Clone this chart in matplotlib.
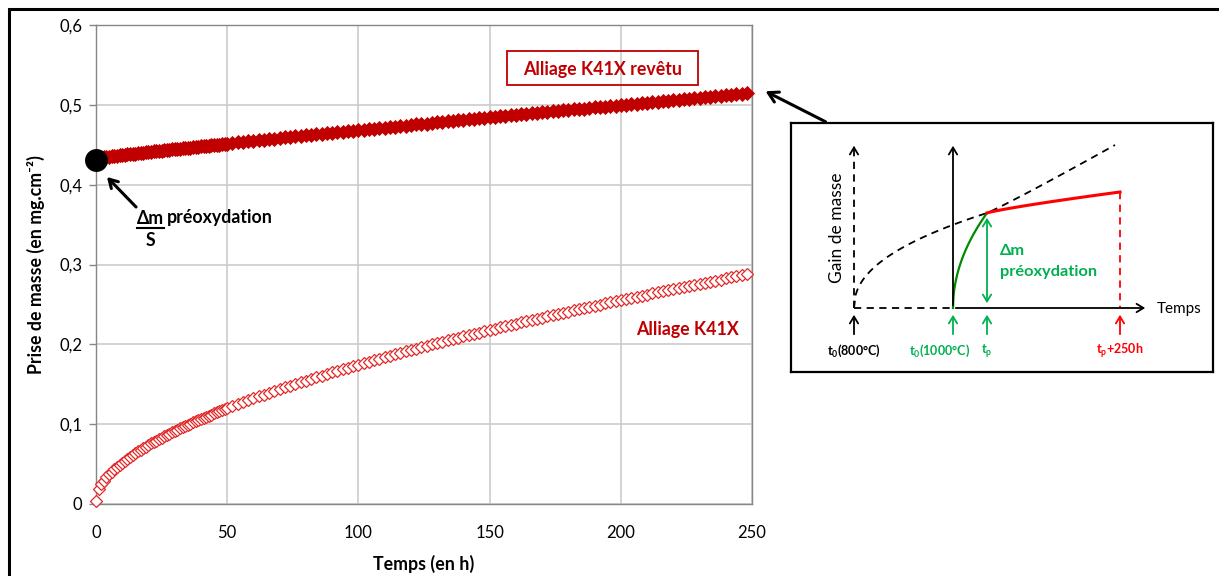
import matplotlib
matplotlib.use('Agg')
import matplotlib.pyplot as plt
from matplotlib.patches import Rectangle, FancyArrowPatch
from matplotlib.lines import Line2D
import numpy as np

plt.rcParams['font.family'] = ['Lato', 'DejaVu Sans']
plt.rcParams['mathtext.fontset'] = 'custom'
plt.rcParams['mathtext.rm'] = 'Lato'
plt.rcParams['mathtext.bf'] = 'Lato:bold'
plt.rcParams['mathtext.it'] = 'Lato:italic'

# ---------------- data ----------------
temps = [0, 1, 2, 3, 4, 5, 6, 7, 8, 9, 10, 11, 12, 13, 14, 15, 16, 17, 18, 19,
         20, 21, 22, 23, 24, 25, 26, 27, 28, 29, 30, 31, 32, 33, 34, 35, 36, 37, 38, 39,
         40, 41, 42, 43, 44, 45, 46, 47, 48, 49, 50,
         52, 54, 56, 58, 60, 62, 64, 66, 68, 70, 72, 74, 76, 78, 80, 82, 84, 86, 88, 90,
         92, 94, 96, 98, 100, 102, 104, 106, 108, 110, 112, 114, 116, 118, 120, 122, 124, 126, 128, 130,
         132, 134, 136, 138, 140, 142, 144, 146, 148, 150, 152, 154, 156, 158, 160, 162, 164, 166, 168, 170,
         172, 174, 176, 178, 180, 182, 184, 186, 188, 190, 192, 194, 196, 198, 200, 202, 204, 206, 208, 210,
         212, 214, 216, 218, 220, 222, 224, 226, 228, 230, 232, 234, 236, 238, 240, 242, 244, 246, 248]

k41x = [0.004, 0.019, 0.0245, 0.0293, 0.0334, 0.0370, 0.0404, 0.0435, 0.0465, 0.0493,
        0.0519, 0.0544, 0.0569, 0.0592, 0.0615, 0.0637, 0.0659, 0.0680, 0.0700, 0.0720,
        0.0739, 0.0758, 0.0777, 0.0795, 0.0813, 0.0830, 0.0848, 0.0865, 0.0881, 0.0898,
        0.0914, 0.0930, 0.0946, 0.0961, 0.0977, 0.0992, 0.1007, 0.1021, 0.1036, 0.1050,
        0.1065, 0.1079, 0.1093, 0.1107, 0.1120, 0.1134, 0.1147, 0.1161, 0.1174, 0.1187,
        0.1200,
        0.1225, 0.1251, 0.1275, 0.1300, 0.1323, 0.1347, 0.1370, 0.1394, 0.1416, 0.1439,
        0.1461, 0.1482, 0.1504, 0.1525, 0.1546, 0.1567, 0.1588, 0.1608, 0.1629, 0.1649,
        0.1669, 0.1688, 0.1708, 0.1727, 0.1746, 0.1765, 0.1784, 0.1803, 0.1821, 0.1840,
        0.1858, 0.1876, 0.1894, 0.1911, 0.1929, 0.1947, 0.1964, 0.1981, 0.1999, 0.2015,
        0.2033, 0.2049, 0.2066, 0.2083, 0.2099, 0.2116, 0.2132, 0.2148, 0.2164, 0.2180,
        0.2196, 0.2212, 0.2228, 0.2244, 0.2259, 0.2275, 0.2290, 0.2305, 0.2321, 0.2336,
        0.2351, 0.2366, 0.2381, 0.2396, 0.2410, 0.2425, 0.2440, 0.2454, 0.2469, 0.2483,
        0.2498, 0.2512, 0.2526, 0.2540, 0.2554, 0.2569, 0.2582, 0.2597, 0.2610, 0.2624,
        0.2638, 0.2652, 0.2665, 0.2679, 0.2692, 0.2706, 0.2719, 0.2733, 0.2746, 0.2759,
        0.2773, 0.2786, 0.2799, 0.2812, 0.2825, 0.2838, 0.2851, 0.2864, 0.2877]

k41x_revetu = [0.4330, 0.4335, 0.4339, 0.4344, 0.4348, 0.4352, 0.4356, 0.4360, 0.4364, 0.4368,
               0.4372, 0.4375, 0.4379, 0.4383, 0.4387, 0.4390, 0.4394, 0.4398, 0.4401, 0.4405,
               0.4409, 0.4412, 0.4416, 0.4419, 0.4423, 0.4427, 0.4430, 0.4434, 0.4437, 0.4441,
               0.4444, 0.4448, 0.4451, 0.4455, 0.4458, 0.4462, 0.4465, 0.4469, 0.4472, 0.4475,
               0.4479, 0.4482, 0.4486, 0.4489, 0.4493, 0.4496, 0.4499, 0.4503, 0.4506, 0.4509,
               0.4513,
               0.4523, 0.4530, 0.4537, 0.4544, 0.4551, 0.4557, 0.4564, 0.4571, 0.4577, 0.4584,
               0.4591, 0.4597, 0.4604, 0.4611, 0.4617, 0.4624, 0.4631, 0.4637, 0.4644, 0.4650,
               0.4657, 0.4663, 0.4670, 0.4676, 0.4683, 0.4689, 0.4696, 0.4702, 0.4709, 0.4715,
               0.4722, 0.4728, 0.4734, 0.4741, 0.4747, 0.4754, 0.4760, 0.4766, 0.4773, 0.4779,
               0.4786, 0.4792, 0.4798, 0.4804, 0.4811, 0.4817, 0.4824, 0.4830, 0.4836, 0.4842,
               0.4849, 0.4855, 0.4861, 0.4868, 0.4874, 0.4880, 0.4886, 0.4892, 0.4899, 0.4905,
               0.4911, 0.4917, 0.4924, 0.4930, 0.4936, 0.4942, 0.4948, 0.4954, 0.4961, 0.4967,
               0.4973, 0.4979, 0.4985, 0.4991, 0.4998, 0.5004, 0.5010, 0.5016, 0.5022, 0.5028,
               0.5034, 0.5041, 0.5047, 0.5053, 0.5059, 0.5065, 0.5071, 0.5077, 0.5083, 0.5089,
               0.5095, 0.5101, 0.5107, 0.5114, 0.5120, 0.5126, 0.5132, 0.5138, 0.5144]

preox_t = [0]
preox_m = [0.431]

x_ticks = [0, 50, 100, 150, 200, 250]
y_ticks = [0, 0.1, 0.2, 0.3, 0.4, 0.5, 0.6]
y_ticklabels = ['0', '0,1', '0,2', '0,3', '0,4', '0,5', '0,6']

# ---------------- figure ----------------
W, H = 1219, 576
fig = plt.figure(figsize=(W / 100, H / 100), dpi=100)
fig.patch.set_facecolor('white')


def fx(x):
    return x / W


def fy(y):
    return 1 - y / H


# outer frame
fig.add_artist(Rectangle((fx(9), -0.05), 1.2, fy(9) + 0.05, fill=False,
                         edgecolor='black', lw=2.2, transform=fig.transFigure))

ax = fig.add_axes([fx(96), fy(504), (752 - 96) / W, (504 - 25) / H])
ax.set_xlim(0, 250)
ax.set_ylim(0, 0.6)
ax.set_xticks(x_ticks)
ax.set_xticklabels([str(v) for v in x_ticks])
ax.set_yticks(y_ticks)
ax.set_yticklabels(y_ticklabels)
ax.grid(True, color='#c8c8c8', lw=1.1)
ax.set_axisbelow(True)
for s in ax.spines.values():
    s.set_color('#868686')
    s.set_linewidth(1.0)
ax.tick_params(axis='y', length=5, width=1, color='#868686', pad=5, labelsize=12)
ax.tick_params(axis='x', length=0, pad=15, labelsize=12)

ax.plot(temps, k41x, linestyle='none', marker='D', ms=6.4, mfc='white',
        mec='#e02a2a', mew=0.9, clip_on=False, zorder=3)
ax.plot(temps, k41x_revetu, linestyle='none', marker='D', ms=6.9, mfc='#c00000',
        mec='#c00000', mew=0.6, clip_on=False, zorder=4)
ax.plot(preox_t, preox_m, linestyle='none', marker='o', ms=15.5, color='black',
        clip_on=False, zorder=6)

ax.set_xlabel('Temps (en h)', fontsize=12.8, fontweight='bold', labelpad=10)
ax.set_ylabel('Prise de masse (en mg.cm⁻²)', fontsize=12.8, fontweight='bold', labelpad=10)

# series labels
fig.add_artist(Rectangle((fx(507), fy(85)), (698 - 507) / W, (85 - 51) / H, fill=False,
                         edgecolor='#c00000', lw=1.3, transform=fig.transFigure))
fig.text(fx(603), fy(69), 'Alliage K41X revêtu', color='#c00000', fontsize=12.8,
         fontweight='bold', ha='center', va='center')
fig.text(fx(687), fy(329), 'Alliage K41X', color='#c00000', fontsize=12.8,
         fontweight='bold', ha='center', va='center')

# annotation near the black dot
fig.add_artist(FancyArrowPatch(
    (fx(138), fy(209)), (fx(105), fy(175)), transform=fig.transFigure,
    arrowstyle='->,head_length=6,head_width=3.5', lw=2.2, color='black'))
fig.text(fx(150), fy(218), 'Δm', fontsize=12.8, fontweight='bold', ha='center', va='center')
fig.add_artist(Line2D([fx(137), fx(164)], [fy(228), fy(228)], color='black', lw=1.5,
                      transform=fig.transFigure))
fig.text(fx(150), fy(241), 'S', fontsize=12.8, fontweight='bold', ha='center', va='center')
fig.text(fx(167), fy(218), 'préoxydation', fontsize=12.8, fontweight='bold', ha='left', va='center')

# arrow from inset to the end of the coated series
fig.add_artist(FancyArrowPatch(
    (fx(828), fy(123)), (fx(763), fy(90)), transform=fig.transFigure,
    arrowstyle='->,head_length=7,head_width=4', lw=2.2, color='black'))

# ---------------- inset schematic ----------------
axi = fig.add_axes([fx(791), fy(372), (1213 - 791) / W, (372 - 123) / H])
axi.set_xlim(791, 1213)
axi.set_ylim(372, 123)
axi.set_xticks([])
axi.set_yticks([])
for s in axi.spines.values():
    s.set_color('black')
    s.set_linewidth(1.6)

green_d = '#008a00'
green = '#00b050'
red = '#ff0000'
x0, xs, xp, xe, ybase = 854, 953, 987, 1120, 308
ytp = 213
head = '->,head_length=0.5,head_width=0.3'

# dashed axes (800°C)
axi.plot([x0, x0], [ybase, 148], color='black', lw=1.3, ls=(0, (4, 3)))
axi.annotate('', xy=(x0, 143), xytext=(x0, 152),
             arrowprops=dict(arrowstyle=head, lw=1.3, color='black'))
axi.plot([x0, xs], [ybase, ybase], color='black', lw=1.3, ls=(0, (4, 3)))
# solid axes (1000°C)
axi.annotate('', xy=(xs, 143), xytext=(xs, ybase),
             arrowprops=dict(arrowstyle=head, lw=1.3, color='black'))
axi.annotate('', xy=(1148, ybase), xytext=(xs, ybase),
             arrowprops=dict(arrowstyle=head, lw=1.3, color='black'))

# dashed parabolic curve
u = np.linspace(0, 1, 80)
cx1 = x0 + (xp - x0) * u
cy1 = ybase - (ybase - ytp) * u ** 0.45
cx2 = np.linspace(xp, 1115, 30)
cy2 = ytp - (ytp - 145) * ((cx2 - xp) / (1115 - xp)) ** 1.05
axi.plot(np.concatenate([cx1, cx2]), np.concatenate([cy1, cy2]), color='black',
         lw=1.3, ls=(0, (4, 3)))

# green curve
gx = xs + (xp - xs) * u
gy = ybase - (ybase - ytp) * u ** 0.5
axi.plot(gx, gy, color=green_d, lw=1.6)

# red curve
rx = np.linspace(xp, xe, 50)
ry = ytp - (ytp - 192) * ((rx - xp) / (xe - xp)) ** 0.85
axi.plot(rx, ry, color=red, lw=2.2)
axi.plot([xe, xe], [192, ybase], color=red, lw=1.3, ls=(0, (4, 3)))

# green double arrow
axi.annotate('', xy=(xp, ytp + 2), xytext=(xp, ybase - 2),
             arrowprops=dict(arrowstyle='<->,head_length=0.5,head_width=0.3', lw=1.3, color=green))
axi.text(1000, 251, 'Δm', color=green, fontsize=11.8, fontweight='bold', ha='left', va='center')
axi.text(1000, 272, 'préoxydation', color=green, fontsize=11.8, fontweight='bold',
         ha='left', va='center')

axi.text(1157, 309, 'Temps', fontsize=11, ha='left', va='center')
axi.text(837, 228, 'Gain de masse', fontsize=12.5, rotation=90, ha='center', va='center')

# small arrows under the time axis
for xa, col in [(x0, 'black'), (xs, green), (xp, green), (xe, red)]:
    axi.annotate('', xy=(xa, 312), xytext=(xa, 337),
                 arrowprops=dict(arrowstyle=head, lw=1.3, color=col))

lab_fs = 9
axi.text(x0, 351, r'$\mathbf{t_0}$(800°C)', color='black', fontsize=lab_fs, fontweight='bold',
         ha='center', va='center')
axi.text(940, 351, r'$\mathbf{t_0}$(1000°C)', color=green, fontsize=lab_fs, fontweight='bold',
         ha='center', va='center')
axi.text(xp, 351, r'$\mathbf{t_p}$', color=green, fontsize=lab_fs, fontweight='bold',
         ha='center', va='center')
axi.text(xe, 351, r'$\mathbf{t_p}$+250h', color=red, fontsize=lab_fs, fontweight='bold',
         ha='center', va='center')

fig.savefig('out.png', dpi=100)
